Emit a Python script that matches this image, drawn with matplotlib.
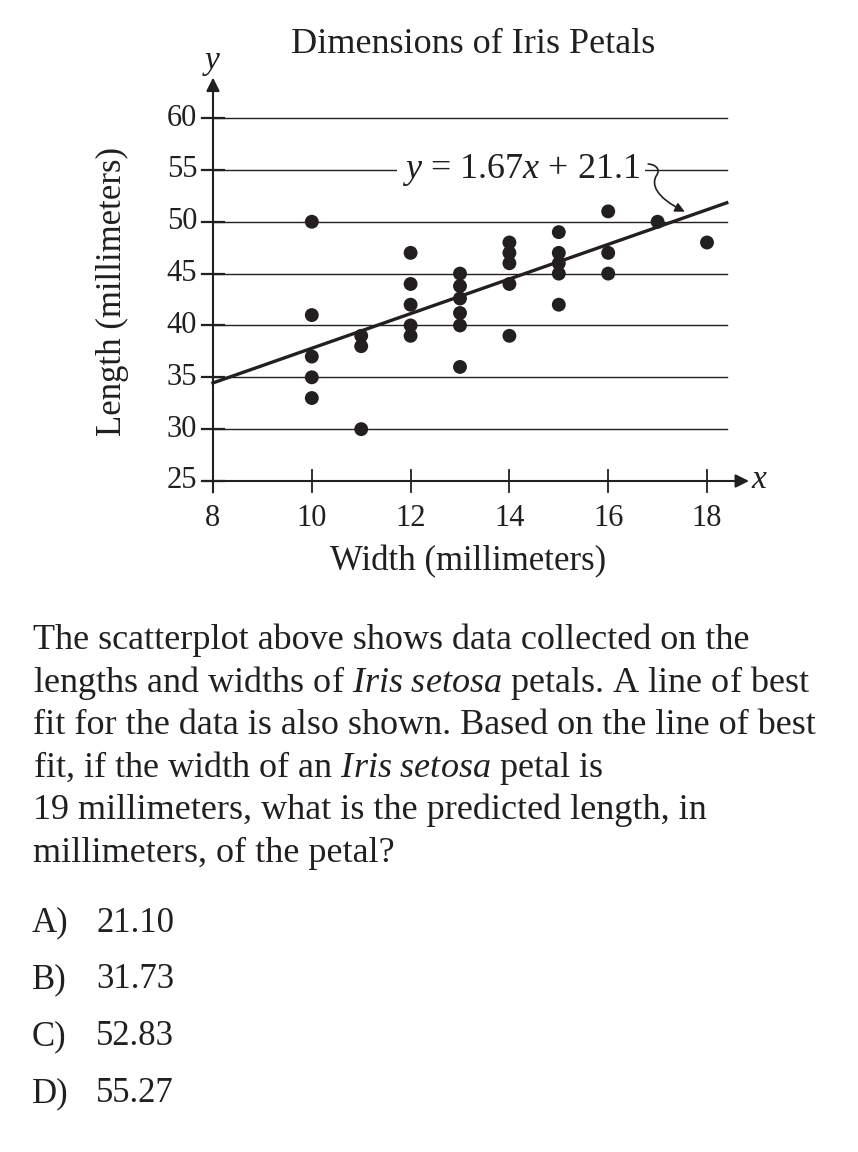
"""Iris setosa petal scatterplot with line of best fit, laid out as a test question page."""
import matplotlib

matplotlib.use("Agg")
import matplotlib.pyplot as plt  # noqa: E402
import numpy as np  # noqa: E402
from matplotlib.patches import FancyArrowPatch  # noqa: E402
from matplotlib.path import Path  # noqa: E402

plt.rcParams["font.family"] = ["Liberation Serif", "DejaVu Serif"]
plt.rcParams["mathtext.fontset"] = "custom"
plt.rcParams["mathtext.rm"] = "Liberation Serif"
plt.rcParams["mathtext.it"] = "Liberation Serif:italic"

INK = "#231f20"

# petal widths / lengths (mm)
width_mm = [10, 10, 10, 10, 10,
            11, 11, 11,
            12, 12, 12, 12, 12,
            13, 13, 13, 13, 13, 13,
            14, 14, 14, 14, 14,
            15, 15, 15, 15, 15,
            16, 16, 16,
            17, 18]
length_mm = [50, 41, 37, 35, 33,
             39, 38, 30,
             47, 44, 42, 40, 39,
             45, 43.8, 42.6, 41.2, 40, 36,
             48, 47, 46, 44, 39,
             49, 47, 46, 45, 42,
             51, 47, 45,
             50, 48]
slope, intercept = 1.67, 21.1

x_ticks = [8, 10, 12, 14, 16, 18]
y_ticks = [25, 30, 35, 40, 45, 50, 55, 60]

question = [
    "The scatterplot above shows data collected on the",
    r"lengths and widths of $\mathit{Iris\ setosa}$ petals. A line of best",
    "fit for the data is also shown. Based on the line of best",
    r"fit, if the width of an $\mathit{Iris\ setosa}$ petal is",
    "19 millimeters, what is the predicted length, in",
    "millimeters, of the petal?",
]
choices = [("A)", "21.10"), ("B)", "31.73"), ("C)", "52.83"), ("D)", "55.27")]

W, H = 858, 1152
fig = plt.figure(figsize=(W / 100, H / 100), dpi=100)

# axes box: x 8..19 -> px 213..756.4, y 25..65 -> px 481..66.2
ax = fig.add_axes([213 / W, 1 - 481 / H, 543.4 / W, 414.8 / H])
ax.set_xlim(8, 19)
ax.set_ylim(25, 65)
ax.axis("off")

x_end = 18.4
for yv in y_ticks[1:]:
    ax.plot([8, x_end], [yv, yv], color=INK, lw=1.0, clip_on=False, zorder=1)
    ax.plot([7.78, 8.22], [yv, yv], color=INK, lw=1.6, clip_on=False, zorder=1)
ax.plot([7.78, 8.22], [25, 25], color=INK, lw=1.6, clip_on=False)
for xv in x_ticks:
    ax.plot([xv, xv], [23.9, 26.1], color=INK, lw=1.3, clip_on=False)

# axes with arrow heads
arrow = dict(arrowstyle="-|>", color=INK, lw=1.5, mutation_scale=20, shrinkA=0, shrinkB=0)
ax.annotate("", xy=(18.85, 25), xytext=(7.8, 25), arrowprops=arrow, annotation_clip=False)
ax.annotate("", xy=(8, 63.9), xytext=(8, 23.9), arrowprops=arrow, annotation_clip=False)
ax.text(19.07, 25.1, "$x$", fontsize=24, ha="center", va="center", color=INK)
ax.text(7.97, 65.3, "$y$", fontsize=24, ha="center", va="center", color=INK)

for xv in x_ticks:
    ax.text(xv, 22.75, str(xv), fontsize=22, ha="center", va="top", color=INK)
for yv in y_ticks:
    ax.text(7.68, yv, str(yv), fontsize=22, ha="right", va="center", color=INK)

# line of best fit
xf = np.array([8, x_end])
ax.plot(xf, slope * xf + intercept, color=INK, lw=2.4, clip_on=False, zorder=3)
ax.scatter(width_mm, length_mm, s=100, color=INK, edgecolor="none", zorder=4, clip_on=False)

ax.text(11.82, 55, f"$y$ = {slope}$x$ + {intercept}", fontsize=26, ha="left", va="center",
        color=INK, zorder=2, bbox=dict(fc="white", ec="none", pad=3.5))

# curly pointer from the equation to the line
verts = [(16.81, 55.57), (16.97, 55.5), (17.07, 55.05), (16.97, 54.4),
         (16.88, 53.6), (16.95, 52.4), (17.55, 50.97)]
codes = [Path.MOVETO] + [Path.CURVE4] * 6
ax.add_patch(FancyArrowPatch(path=Path(verts, codes), arrowstyle="-|>", mutation_scale=14,
                             color=INK, lw=1.2, zorder=5, clip_on=False))

fig.text(473 / W, 1 - 53 / H, "Dimensions of Iris Petals", fontsize=26, ha="center",
         va="baseline", color=INK)
fig.text(112 / W, 1 - 291 / H, "Length (millimeters)", fontsize=25, rotation=90,
         ha="center", va="center", color=INK)
fig.text(468 / W, 1 - 562 / H, "Width (millimeters)", fontsize=25, ha="center",
         va="center", color=INK)

for i, line in enumerate(question):
    fig.text(33 / W, 1 - (649.3 + 42.5 * i) / H, line, fontsize=26, ha="left",
             va="baseline", color=INK)
for i, (letter, val) in enumerate(choices):
    yb = 1 - (931.7 + 56.8 * i) / H
    fig.text(32 / W, yb, letter, fontsize=25, ha="left", va="baseline", color=INK)
    fig.text(96 / W, yb, val, fontsize=25, ha="left", va="baseline", color=INK)

fig.savefig("out.png", dpi=100, facecolor="white")
